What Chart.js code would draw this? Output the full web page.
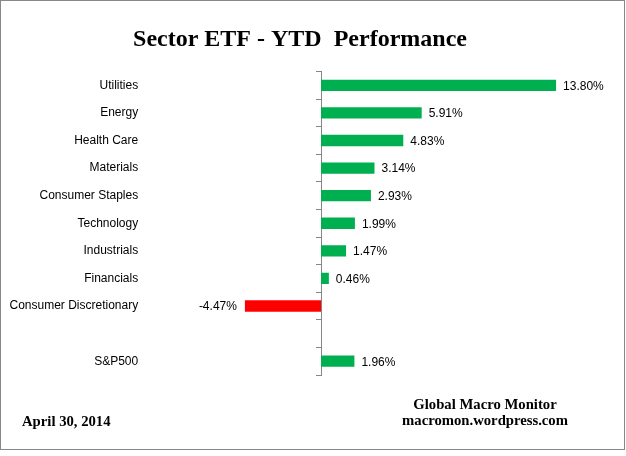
<!DOCTYPE html>
<html><head><meta charset="utf-8">
<script src="https://cdn.jsdelivr.net/npm/chart.js@4.4.0/dist/chart.umd.min.js"></script>
<style>
html,body{margin:0;padding:0;background:#fff;width:626px;height:456px;overflow:hidden;}
#wrap{position:absolute;left:0;top:0;width:604px;height:456px;}
#frame{position:absolute;left:0;top:0;width:625px;height:450px;box-sizing:border-box;border:1px solid #888;pointer-events:none;}
.foot{position:absolute;font-family:"Liberation Serif","Times New Roman",serif;font-weight:bold;font-size:14.7px;color:#000;white-space:nowrap;}
#f1{left:22px;top:413.7px;line-height:14.7px;}
#f2{left:385px;top:397.2px;width:200px;text-align:center;line-height:15.7px;}
</style></head><body>
<div id="wrap"><canvas id="c" width="604" height="456"></canvas></div>
<div id="frame"></div>
<div class="foot" id="f1">April 30, 2014</div>
<div class="foot" id="f2">Global Macro Monitor<br>macromon.wordpress.com</div>
<script>
const chartTitle = 'Sector ETF - YTD  Performance';
const categories = ['Utilities','Energy','Health Care','Materials','Consumer Staples','Technology','Industrials','Financials','Consumer Discretionary','','S&P500'];
const ytdReturns = [13.80, 5.91, 4.83, 3.14, 2.93, 1.99, 1.47, 0.46, -4.47, null, 1.96];
const positiveColor = '#00B050';
const negativeColor = '#FF0000';

const barValueLabels = {
  id: 'barValueLabels',
  afterDatasetsDraw(chart) {
    const ctx = chart.ctx;
    const meta = chart.getDatasetMeta(0);
    ctx.save();
    ctx.font = '12px "Liberation Sans", Arial, sans-serif';
    ctx.fillStyle = '#000';
    ctx.textBaseline = 'middle';
    meta.data.forEach((bar, i) => {
      const v = ytdReturns[i];
      if (v === null || v === undefined) return;
      const p = bar.getProps(['x', 'y'], true);
      const txt = v.toFixed(2) + '%';
      if (v >= 0) { ctx.textAlign = 'left'; ctx.fillText(txt, p.x + 7, p.y + 1); }
      else { ctx.textAlign = 'right'; ctx.fillText(txt, p.x - 8, p.y + 1); }
    });
    ctx.restore();
  }
};

new Chart(document.getElementById('c'), {
  type: 'bar',
  data: {
    labels: categories,
    datasets: [{
      data: ytdReturns,
      backgroundColor: ytdReturns.map(v => (v !== null && v < 0) ? negativeColor : positiveColor),
      borderWidth: 0,
      barPercentage: 0.41,
      categoryPercentage: 1,
      xAxisID: 'x',
      yAxisID: 'y'
    }]
  },
  options: {
    indexAxis: 'y',
    responsive: false,
    animation: false,
    layout: { padding: { left: 0, right: 4, top: 0, bottom: 81 } },
    plugins: {
      legend: { display: false },
      tooltip: { enabled: false },
      title: {
        display: true,
        text: chartTitle,
        color: '#000',
        font: { family: '"Liberation Serif", "Times New Roman", serif', size: 24, weight: 'bold', lineHeight: 1.2 },
        padding: { top: 25.8, bottom: 16.9 }
      }
    },
    scales: {
      x: { type: 'linear', display: false, min: -10.5, max: 16.38 },
      y: {
        type: 'category',
        position: 'left',
        offset: true,
        grid: { display: false },
        border: { display: false },
        ticks: { font: { family: '"Liberation Sans", Arial, sans-serif', size: 12 }, color: '#000', padding: -4, autoSkip: false },
        afterFit(s) { s.width = 142.2; }
      },
      yAxisLine: {
        type: 'category',
        axis: 'y',
        position: { x: 0 },
        offset: true,
        grid: { drawOnChartArea: false, drawTicks: true, tickLength: 5, color: '#868686', lineWidth: 1, offset: true },
        border: { display: true, color: '#868686', width: 1 },
        ticks: { display: false },
        afterFit(s) { s.width = 0; }
      }
    }
  },
  plugins: [barValueLabels]
});
</script>
</body></html>
